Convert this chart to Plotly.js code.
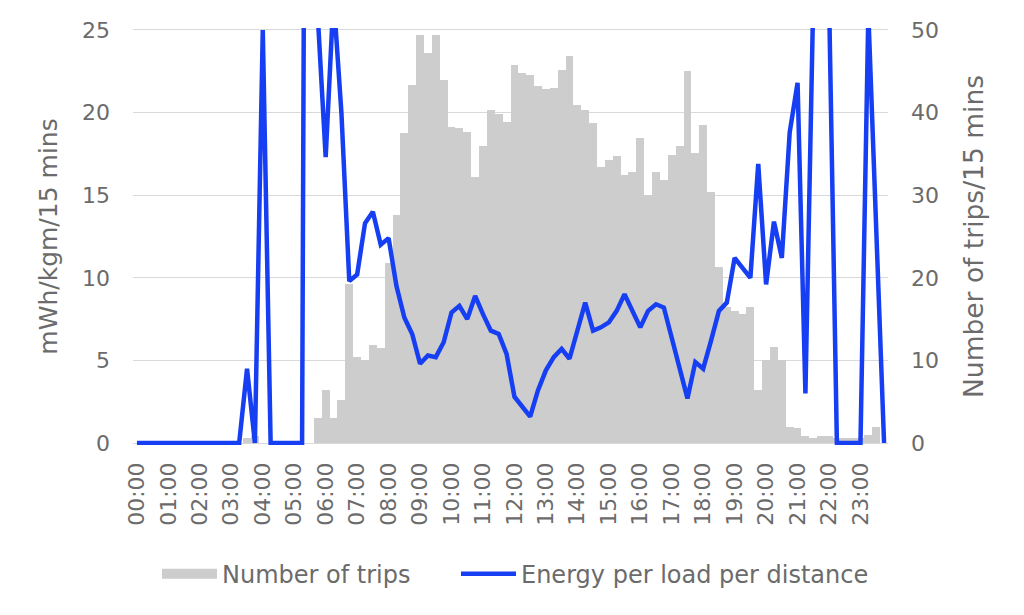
<!DOCTYPE html>
<html>
<head>
<meta charset="utf-8">
<script src="https://cdn.plot.ly/plotly-3.0.1.min.js"></script>
<style>
html,body{margin:0;padding:0;background:#ffffff;}
#chart{width:1024px;height:615px;}
</style>
</head>
<body>
<div id="chart"></div>
<script>
// Hour tick labels (category axis shows one label per hour)
const hourLabels = ["00:00","01:00","02:00","03:00","04:00","05:00","06:00","07:00",
  "08:00","09:00","10:00","11:00","12:00","13:00","14:00","15:00",
  "16:00","17:00","18:00","19:00","20:00","21:00","22:00","23:00"];
const quarterMinutes = ["00","15","30","45"];
// 96 quarter-hour categories
const times = [];
hourLabels.forEach(function(h){ quarterMinutes.forEach(function(m){ times.push(h.slice(0,3) + m); }); });

// Number of trips per 15 minutes (right axis)
const trips = [
  0,0,0,0, 0,0,0,0, 0,0,0,0,            // 00:00-02:45
  0,0,0.6,0.8, 0,0,0,0,                 // 03:00-04:45
  0,0,0,3.0, 6.4,3.0,5.2,19.3,          // 05:00-06:45
  10.4,10.0,11.9,11.5, 21.8,27.6,37.5,43.3, // 07:00-08:45
  49.4,47.2,49.4,44.0, 38.3,38.1,37.6,32.2, // 09:00-10:45
  35.9,40.3,39.8,38.9, 45.8,44.8,44.6,43.2, // 11:00-12:45
  42.8,43.0,45.2,46.8, 40.9,40.3,38.7,33.4, // 13:00-14:45
  34.3,34.7,32.4,32.8, 36.9,30.0,32.8,31.8, // 15:00-16:45
  34.9,36.0,45.0,35.1, 38.5,30.4,21.3,16.5, // 17:00-18:45
  16.0,15.6,16.5,6.4, 10.0,11.6,10.0,2.0,   // 19:00-20:45
  1.8,0.9,0.6,0.8, 0.8,0.6,0.6,0.6,         // 21:00-22:45
  0.6,1.0,2.0,0                              // 23:00-23:45
];

// Energy per load per distance, mWh/kgm per 15 minutes (left axis)
const energy = [
  0,0,0,0, 0,0,0,0, 0,0,0,0,
  0,0,4.5,0, 25,0,0,0,
  0,0,120,25.8, 17.3,27,20,9.8,
  10.2,13.3,14.0,12.0, 12.4,9.5,7.6,6.6,
  4.8,5.3,5.2,6.1, 7.9,8.3,7.5,8.9,
  7.8,6.8,6.6,5.4, 2.8,2.2,1.6,3.2,
  4.4,5.2,5.7,5.1, 6.8,8.5,6.8,7.0,
  7.3,8.0,9.0,8.0, 7.0,8.0,8.4,8.2,
  6.4,4.6,2.7,4.9, 4.5,6.2,8.0,8.5,
  11.2,10.6,10.0,16.9, 9.6,13.4,11.2,18.8,
  21.8,3.0,27,40, 27,0,0,0,
  0,26,13,0
];

const leftTicks = [0,5,10,15,20,25];
const rightTicks = [0,10,20,30,40,50];

const fontFamily = "DejaVu Sans, Verdana, sans-serif";
const textGrey = "#6b6b6b";
const barGrey = "#cdcdcd";
const lineBlue = "#163ef2";

const traces = [
  {
    type: "bar",
    x: times,
    y: trips,
    name: "Number of trips",
    yaxis: "y",
    marker: {color: barGrey, line: {width: 0}},
    showlegend: false,
    hoverinfo: "x+y"
  },
  {
    // legend swatch for the bars (wide grey band like the original)
    type: "scatter",
    mode: "lines",
    x: [null],
    y: [null],
    name: "Number of trips",
    yaxis: "y",
    legend: "legend",
    line: {color: barGrey, width: 13},
    hoverinfo: "skip"
  },
  {
    type: "scatter",
    mode: "lines",
    x: times,
    y: energy,
    name: "Energy per load per distance",
    yaxis: "y2",
    legend: "legend2",
    line: {color: lineBlue, width: 4.5, shape: "linear"},
    hoverinfo: "x+y"
  }
];

const legendCommon = {
  orientation: "h",
  xanchor: "left",
  y: -0.31,
  yanchor: "middle",
  font: {size: 24, color: textGrey, family: fontFamily},
  itemwidth: 55,
  bgcolor: "rgba(0,0,0,0)"
};

const layout = {
  width: 1024,
  height: 615,
  margin: {l: 133, r: 136, t: 28, b: 170, pad: 0},
  paper_bgcolor: "#ffffff",
  plot_bgcolor: "#ffffff",
  font: {family: fontFamily, color: textGrey, size: 22},
  bargap: 0,
  showlegend: true,
  xaxis: {
    type: "category",
    categoryorder: "array",
    categoryarray: times,
    range: [-0.5, 95.5],
    tickmode: "array",
    tickvals: hourLabels,
    ticktext: hourLabels,
    tickangle: -90,
    ticks: "",
    ticklabelstandoff: 12,
    showgrid: false,
    zeroline: false,
    showline: false,
    tickfont: {size: 22, color: textGrey}
  },
  yaxis: {
    range: [-0.24, 50.24],
    side: "right",
    tickmode: "array",
    tickvals: rightTicks,
    ticks: "",
    ticklabelstandoff: 22,
    showgrid: true,
    gridcolor: "#d9d9d9",
    gridwidth: 1,
    zeroline: false,
    showline: false,
    tickfont: {size: 22, color: textGrey},
    title: {text: "Number of trips/15 mins", font: {size: 26.5, color: textGrey}, standoff: 26}
  },
  yaxis2: {
    range: [-0.12, 25.12],
    side: "left",
    overlaying: "y",
    tickmode: "array",
    tickvals: leftTicks,
    ticks: "",
    ticklabelstandoff: 22,
    showgrid: false,
    zeroline: false,
    showline: false,
    tickfont: {size: 22, color: textGrey},
    title: {text: "mWh/kgm/15 mins", font: {size: 25, color: textGrey}, standoff: 17}
  },
  legend: Object.assign({}, legendCommon, {x: 0.0318}),
  legend2: Object.assign({}, legendCommon, {x: 0.4278})
};

Plotly.newPlot("chart", traces, layout, {displayModeBar: false, staticPlot: true});
</script>
</body>
</html>
